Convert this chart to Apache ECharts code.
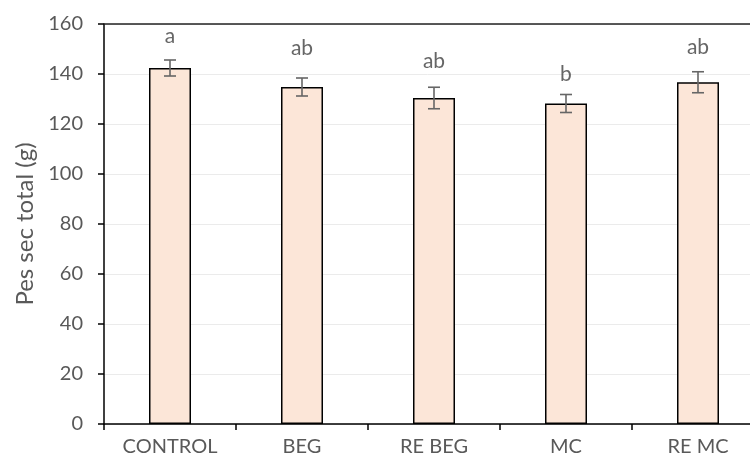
<!DOCTYPE html>
<html><head><meta charset="utf-8">
<script src="https://cdn.jsdelivr.net/npm/echarts@6/dist/echarts.min.js"></script>
<style>html,body{margin:0;padding:0;background:#fff}#c{width:750px;height:464px}</style>
</head><body><div id="c"></div>
<script>
// ---- data ----
const categories = ['CONTROL', 'BEG', 'RE BEG', 'MC', 'RE MC'];
const values = [142.4, 134.8, 130.4, 128.2, 136.7];
const errors = [3.2, 3.6, 4.3, 3.6, 4.2];
const letters = ['a', 'ab', 'ab', 'b', 'ab'];
const letterY = [155, 150.5, 145.3, 140, 150.7];
const yMin = 0, yMax = 160, yStep = 20;
const yAxisTitle = 'Pes sec total (g)';

const FONT = 'Lato';
const TXT = '#595959';

const chart = echarts.init(document.getElementById('c'), null, {renderer: 'canvas'});
chart.setOption({
  animation: false,
  backgroundColor: '#fff',
  grid: {left: 104, top: 24, bottom: 40, width: 660, containLabel: false, outerBoundsMode: 'none'},
  xAxis: {
    type: 'category',
    data: categories,
    axisLine: {lineStyle: {color: '#000', width: 1.5}},
    axisTick: {show: true, length: 6, alignWithLabel: false, lineStyle: {color: '#000', width: 1.5}},
    axisLabel: {color: TXT, fontFamily: FONT, fontSize: 20, margin: 13, hideOverlap: false},
    splitLine: {show: false}
  },
  yAxis: {
    type: 'value',
    min: yMin, max: yMax, interval: yStep,
    name: yAxisTitle,
    nameLocation: 'middle',
    nameGap: 66,
    nameTextStyle: {color: TXT, fontFamily: FONT, fontSize: 24},
    axisLine: {show: true, lineStyle: {color: '#000', width: 1.5}},
    axisTick: {show: true, length: 6, lineStyle: {color: '#000', width: 1.5}},
    axisLabel: {color: TXT, fontFamily: FONT, fontSize: 20, margin: 21},
    splitLine: {show: true, lineStyle: {color: '#ebebeb', width: 1}}
  },
  series: [
    {
      type: 'bar',
      data: values,
      barWidth: 42,
      itemStyle: {color: '#FCE6D8', borderColor: '#000', borderWidth: 1.5},
      markLine: {
        silent: true, symbol: 'none', label: {show: false},
        lineStyle: {color: '#222', width: 1.5, type: 'solid'},
        data: [{yAxis: yMax}]
      },
      z: 2
    },
    {
      type: 'custom',
      data: values.map((v, i) => [i, v - errors[i], v + errors[i]]),
      renderItem: function (params, api) {
        const lo = api.coord([api.value(0), api.value(1)]);
        const hi = api.coord([api.value(0), api.value(2)]);
        const cap = 6;
        const st = {stroke: '#666', lineWidth: 1.6};
        return {
          type: 'group',
          children: [
            {type: 'line', shape: {x1: hi[0], y1: hi[1], x2: lo[0], y2: lo[1]}, style: st},
            {type: 'line', shape: {x1: hi[0] - cap, y1: hi[1], x2: hi[0] + cap, y2: hi[1]}, style: st},
            {type: 'line', shape: {x1: lo[0] - cap, y1: lo[1], x2: lo[0] + cap, y2: lo[1]}, style: st}
          ]
        };
      },
      z: 5
    },
    {
      type: 'scatter',
      data: letterY.map((y, i) => [i, y]),
      symbolSize: 0,
      label: {
        show: true, position: 'inside',
        formatter: p => letters[p.dataIndex],
        color: '#404040', fontFamily: FONT, fontSize: 21
      },
      z: 6
    }
  ]
});
</script></body></html>
